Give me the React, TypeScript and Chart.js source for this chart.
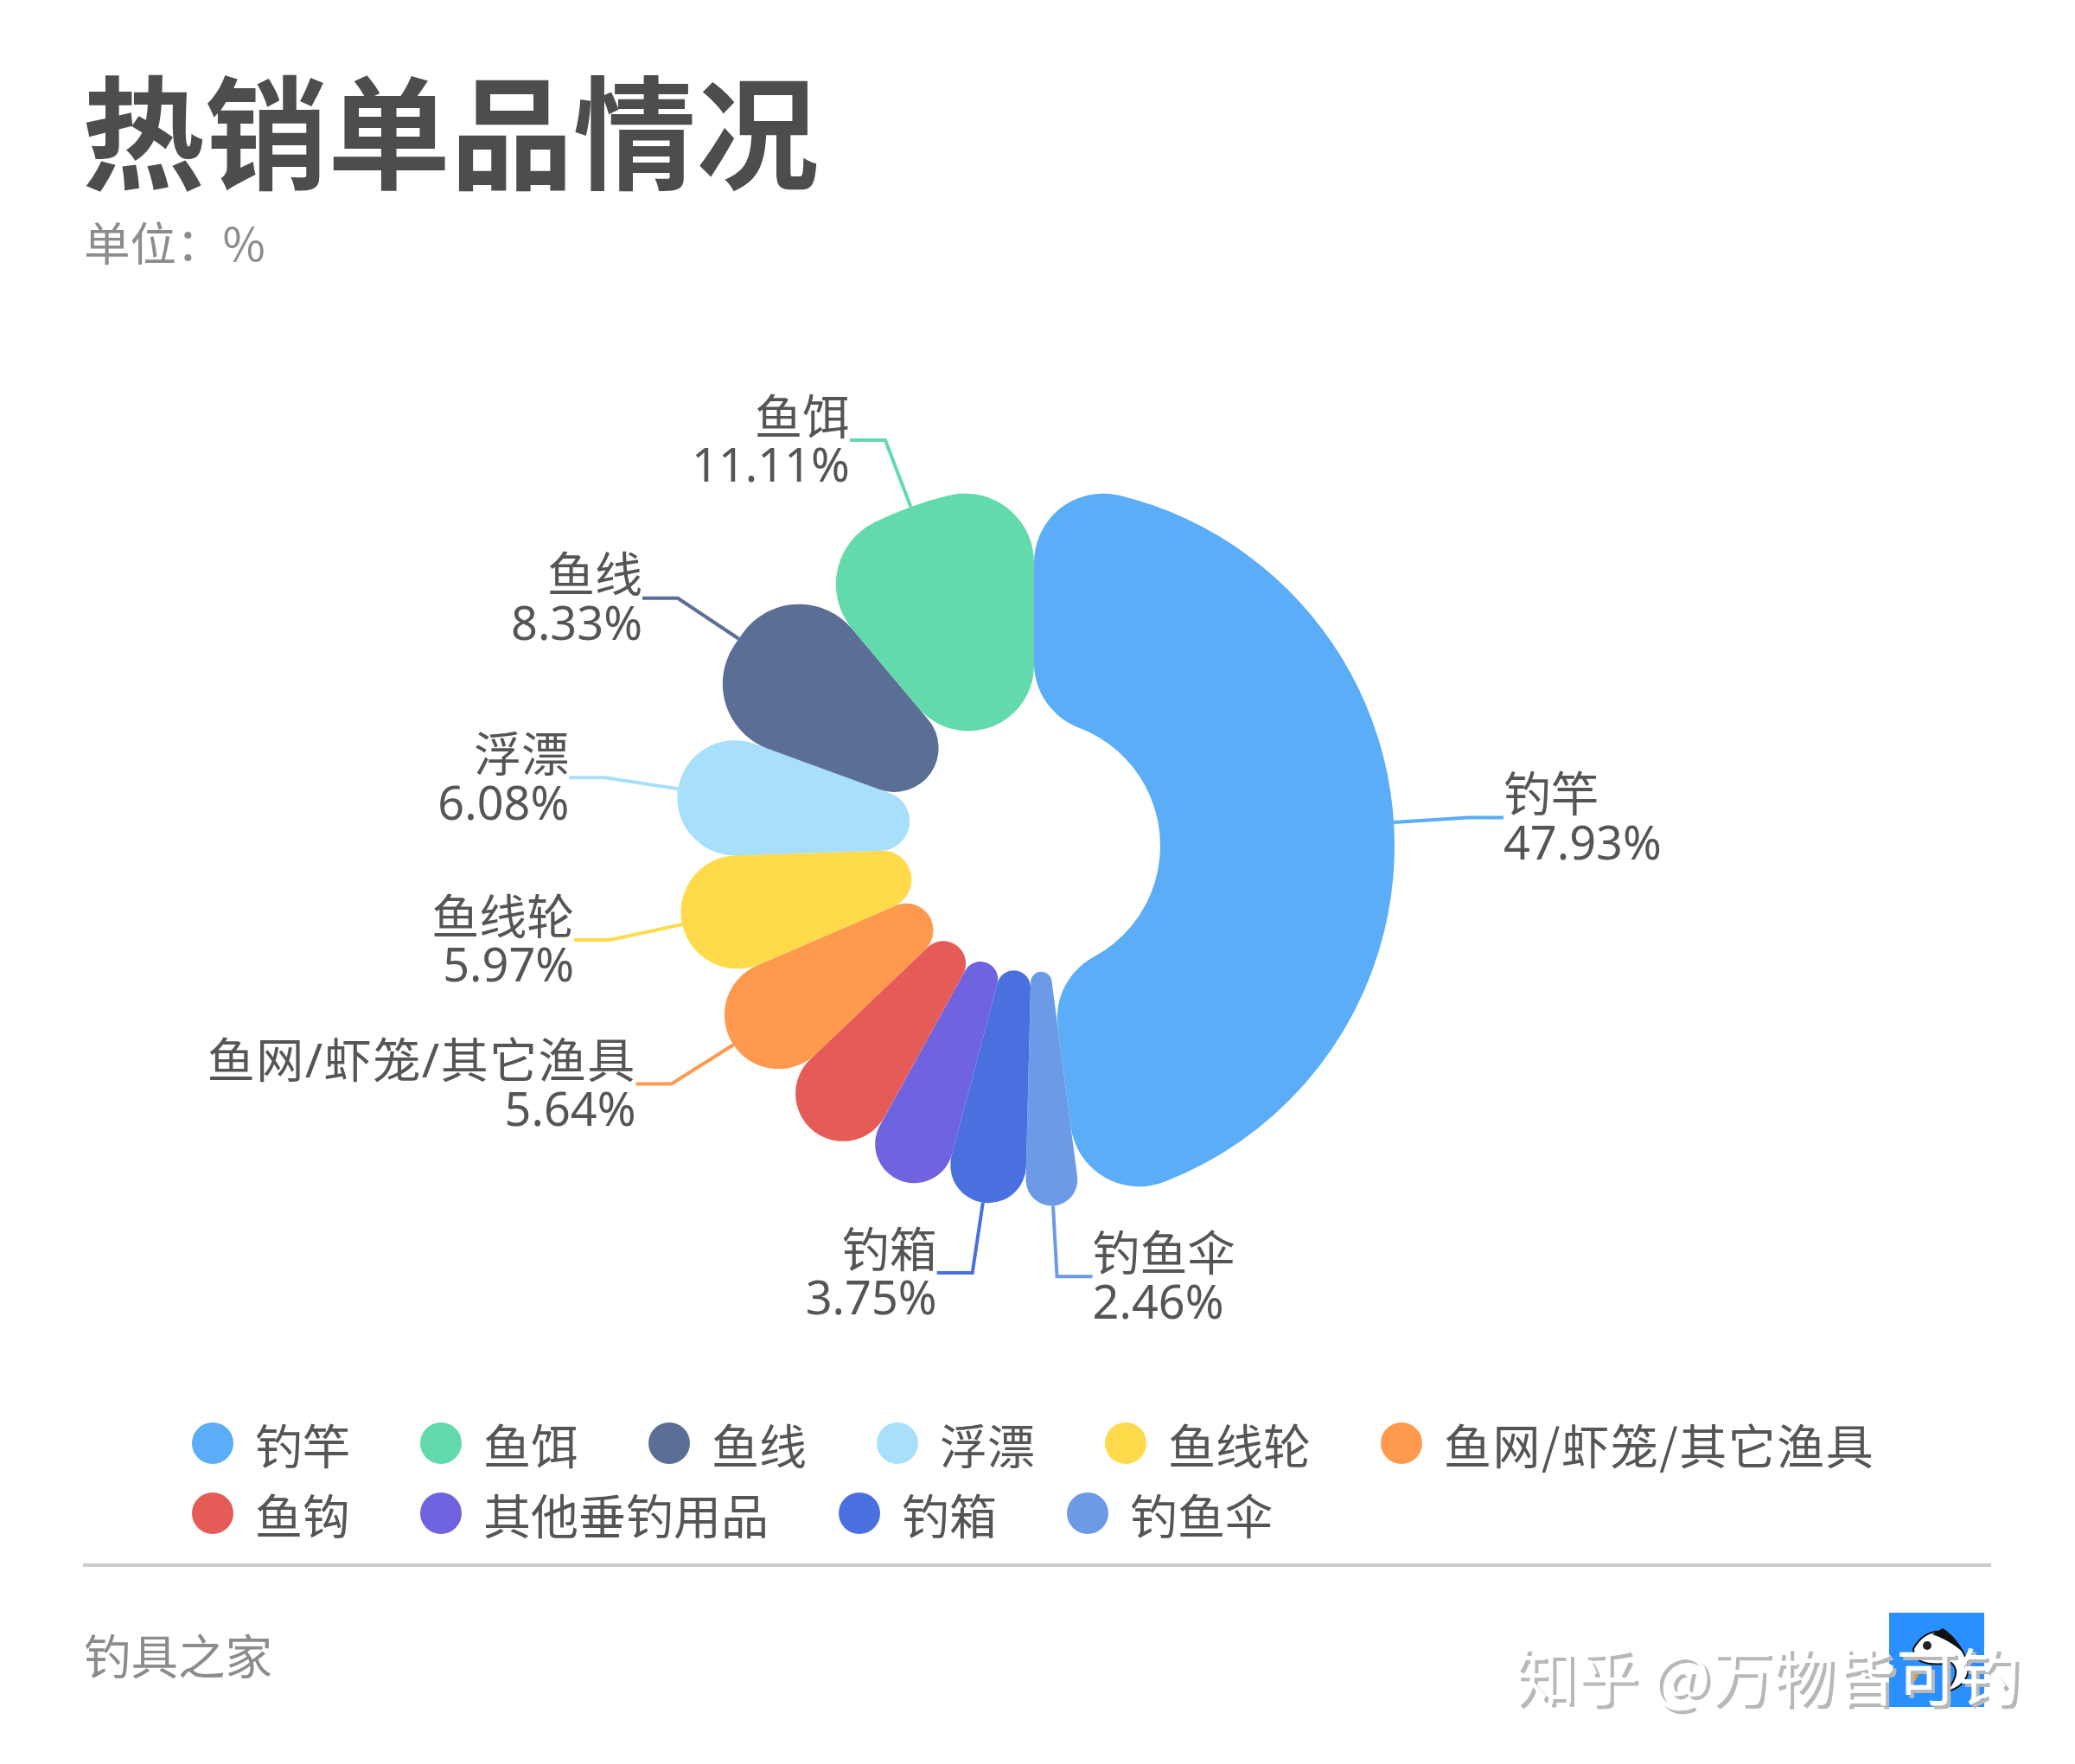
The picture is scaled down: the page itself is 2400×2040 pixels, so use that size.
import React, { useEffect, useRef } from "react";
import { Chart, registerables, ArcElement, DoughnutController } from "chart.js";

const sliceNames = ["钓竿", "钓鱼伞", "钓箱", "其他垂钓用品", "鱼钩", "鱼网/虾笼/其它渔具", "鱼线轮", "浮漂", "鱼线", "鱼饵"];
const sliceValues = [47.93, 2.46, 3.75, 3.88, 4.85, 5.64, 5.97, 6.08, 8.33, 11.11];
const sliceColors = ["#5AADF6", "#6C9AE6", "#4A70E0", "#6F63E0", "#E55B57", "#FF994D", "#FFDA4A", "#A8DFFB", "#5B6E96", "#62DAAB"];
const unlabelled = ["其他垂钓用品", "鱼钩"];
const legendRows = [
  ["钓竿", "鱼饵", "鱼线", "浮漂", "鱼线轮", "鱼网/虾笼/其它渔具"],
  ["鱼钩", "其他垂钓用品", "钓箱", "钓鱼伞"],
];

const TEXT = "#555555";
const MUTED = "#8c8c8c";
const FONT_NAME = '400 55px "Noto Sans", "Noto Sans CJK SC", sans-serif';
const FONT_VALUE = '400 54px "Noto Sans", "Noto Sans CJK SC", sans-serif';
const CJK = '"Noto Sans CJK SC", "Noto Sans", sans-serif';
const CORNER = 80;

// Sector whose corner circles stay tangent to both straight edges and the arcs.
class RoundArc extends (ArcElement as any) {
  static id = "roundArc";
  draw(ctx: CanvasRenderingContext2D) {
    const { x, y, startAngle: a0, endAngle: a1, innerRadius: r, outerRadius: R } = (this as any).getProps(
      ["x", "y", "startAngle", "endAngle", "innerRadius", "outerRadius"],
      true
    );
    const half = (a1 - a0) / 2;
    const s = half >= Math.PI / 2 ? 1 : Math.sin(half);
    const thick = (R - r) / 2;
    const co = Math.min(CORNER, thick, (R * s) / (1 + s));
    const ci = Math.min(CORNER, thick, s < 1 ? (r * s) / (1 - s) : CORNER);
    const po = Math.min(half, Math.asin(co / (R - co)));
    const pi = Math.min(half, Math.asin(ci / (r + ci)));
    const at = (d: number, a: number): [number, number] => [x + d * Math.cos(a), y + d * Math.sin(a)];
    const [oex, oey] = at(R - co, a1 - po);
    const [iex, iey] = at(r + ci, a1 - pi);
    const [isx, isy] = at(r + ci, a0 + pi);
    const [osx, osy] = at(R - co, a0 + po);
    ctx.save();
    ctx.fillStyle = (this as any).options.backgroundColor;
    ctx.beginPath();
    ctx.arc(x, y, R, a0 + po, a1 - po);
    ctx.arc(oex, oey, co, a1 - po, a1 + Math.PI / 2);
    ctx.arc(iex, iey, ci, a1 + Math.PI / 2, a1 - pi + Math.PI);
    ctx.arc(x, y, r, a1 - pi, a0 + pi, true);
    ctx.arc(isx, isy, ci, a0 + pi + Math.PI, a0 + (3 * Math.PI) / 2);
    ctx.arc(osx, osy, co, a0 - Math.PI / 2, a0 + po);
    ctx.closePath();
    ctx.fill();
    ctx.restore();
  }
}

class RoundDoughnut extends (DoughnutController as any) {
  static id = "roundDoughnut";
  static defaults = { ...(DoughnutController as any).defaults, dataElementType: "roundArc" };
  static overrides = (DoughnutController as any).overrides;
}

Chart.register(...registerables, RoundArc as any, RoundDoughnut as any);

const leaderPlugin = {
  id: "leaders",
  afterDatasetsDraw(chart: any) {
    const { ctx } = chart;
    const meta = chart.getDatasetMeta(0);
    meta.data.forEach((arc: any, i: number) => {
      const name = sliceNames[i];
      if (unlabelled.includes(name)) return;
      const { startAngle, endAngle, outerRadius, x, y } = arc.getProps(["startAngle", "endAngle", "outerRadius", "x", "y"], true);
      const mid = (startAngle + endAngle) / 2;
      const sx = x + Math.cos(mid) * outerRadius;
      const sy = y + Math.sin(mid) * outerRadius;
      const ex = x + Math.cos(mid) * 503;
      const ey = y + Math.sin(mid) * 499;
      const dir = Math.cos(mid) >= 0 ? 1 : -1;
      const fx = ex + dir * 41;
      ctx.save();
      ctx.strokeStyle = sliceColors[i];
      ctx.lineWidth = 4;
      ctx.beginPath();
      ctx.moveTo(sx, sy);
      ctx.lineTo(ex, ey);
      ctx.lineTo(fx, ey);
      ctx.stroke();
      ctx.fillStyle = TEXT;
      ctx.font = FONT_NAME;
      ctx.textAlign = dir > 0 ? "left" : "right";
      ctx.textBaseline = "middle";
      if (name.includes("/")) (ctx as any).letterSpacing = "1.5px";
      ctx.fillText(name, fx, ey - 23);
      (ctx as any).letterSpacing = "0px";
      ctx.font = FONT_VALUE;
      ctx.fillText(sliceValues[i].toFixed(2) + "%", fx, ey + 33);
      ctx.restore();
    });
  },
};

const abs = (left: number, top: number, extra: React.CSSProperties = {}): React.CSSProperties => ({
  position: "absolute",
  left,
  top,
  whiteSpace: "nowrap",
  ...extra,
});

export default function App() {
  const ref = useRef<HTMLCanvasElement>(null);
  useEffect(() => {
    const chart = new Chart(ref.current!, {
      type: "roundDoughnut",
      data: {
        labels: sliceNames,
        datasets: [
          {
            data: sliceValues,
            backgroundColor: sliceColors,
            borderWidth: 0,
            hoverOffset: 0,
          },
        ],
      },
      options: {
        responsive: false,
        animation: false,
        cutout: 146,
        layout: { padding: { left: 779, right: 787, top: 561, bottom: 645 } },
        plugins: { legend: { display: false }, tooltip: { enabled: false } },
      },
      plugins: [leaderPlugin],
    } as any);
    return () => chart.destroy();
  }, []);

  const colorOf = (n: string) => sliceColors[sliceNames.indexOf(n)];

  return (
    <div style={{ position: "absolute", left: 0, top: 0, width: 2400, height: 2040, background: "#fff", overflow: "hidden", fontFamily: CJK }}>
      <canvas ref={ref} width={2400} height={2040} style={{ position: "absolute", left: 0, top: 0 }} />
      <div style={abs(95, 51, { fontSize: 142, fontWeight: 700, color: "#4d4d4d", lineHeight: "190px" })}>热销单品情况</div>
      <div style={abs(97, 242, { fontSize: 53.5, fontWeight: 400, color: MUTED, lineHeight: "74px" })}>单位：%</div>
      {legendRows.map((row, r) => (
        <div key={r} style={{ position: "absolute", left: 222, top: 1629 + r * 81, display: "flex", gap: 81, height: 80, alignItems: "center" }}>
          {row.map((n) => (
            <div
              key={n}
              style={{
                display: "flex",
                alignItems: "center",
                whiteSpace: "nowrap",
                fontSize: 55,
                fontWeight: 400,
                color: TEXT,
                letterSpacing: n.includes("/") ? 1.5 : 0,
              }}
            >
              <span style={{ width: 48, height: 48, borderRadius: "50%", background: colorOf(n), marginRight: 25 }} />
              {n}
            </div>
          ))}
        </div>
      ))}
      <div style={{ position: "absolute", left: 96, top: 1808, width: 2207, height: 4, background: "#cccccc" }} />
      <div style={abs(97, 1875, { fontSize: 54.5, fontWeight: 400, color: MUTED, lineHeight: "76px" })}>钓具之家</div>
      <div style={{ position: "absolute", left: 2185, top: 1865, width: 110, height: 109, background: "#2A90FF" }}>
        <svg width={110} height={109} viewBox="0 0 110 109">
          <path d="M 28 42 Q 40 20 62 22 Q 85 35 92 62 Q 92 85 65 92 Q 85 70 72 58 Q 50 62 36 56 Q 28 50 28 42 Z" fill="#ffffff" stroke="#111111" strokeWidth={2} />
          <path d="M 50 25 L 62 18 Q 78 28 86 46 Q 70 32 50 25 Z" fill="#111111" />
          <circle cx={44} cy={38} r={5} fill="#222" />
          <path d="M 24 65 L 30 80 L 36 66 Z" fill="#E0A030" />
        </svg>
      </div>
      <div style={abs(1752, 1885, { fontSize: 71.5, color: "#ffffff", fontWeight: 400, lineHeight: "100px", textShadow: "4px 4px 0 #b8b8b8" })}>知乎 @万物皆可钓</div>
    </div>
  );
}
